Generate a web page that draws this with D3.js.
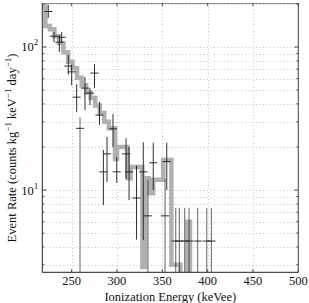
<!DOCTYPE html>
<html>
<head>
<meta charset="utf-8">
<script src="https://cdn.jsdelivr.net/npm/d3@7"></script>
<style>
  html, body { margin: 0; padding: 0; background: #fff; }
  text { font-family: "Liberation Serif", "Times New Roman", Times, serif; }
</style>
</head>
<body>
<div id="chart"></div>
<script>
// simulated spectrum (grey histogram): bin edges (keVee) and rate per bin
const histEdges = [217.6, 221, 226, 231, 236, 241, 246, 251, 256, 261, 266, 271, 276, 281, 286, 291,
                   297.8, 300, 311.6, 315, 328, 331, 335, 340, 351, 360, 370, 377.8, 380.5, 386];
const histRates = [195, 140, 133, 119, 106, 92, 79, 71, 61, 54, 48, 44, 39, 34.5, 30, 27,
                   16.5, 20, 12.1, 14.5, 2.9, 12.1, 9.5, 11.8, 16.2, 3.0, 0, 6.0, 0];

// measured points with error bars
const ptEnergy = [224.2, 230.5, 236.4, 239, 246.3, 250, 255.5, 259.2, 264.7, 270.2, 275.2, 280.7, 285, 289,
                  295.6, 299.7, 310, 313.3, 321.5, 329, 334.2, 340, 353, 354.9,
                  364.8, 368.8, 374.7, 379.5, 389, 399, 404.1];
const ptRate = [177, 119, 108, 117, 73.6, 67, 44.6, 27, 51.6, 47.6, 65.7, 33.4, 13.4, 17.9,
                26.8, 13.4, 17.9, 13.4, 8.8, 13.4, 6.6, 15.5, 6.6, 15.8,
                4.4, 4.4, 4.4, 4.4, 4.4, 4.4, 4.4];
const ptLow = [160, 108, 92, 107, 64, 54, 35, 0, 36.2, 39.3, 51.6, 28.5, 7.85, 11.4,
               20, 11.2, 12, 8.5, 4.5, 4.47, 0, 10, 0, 10,
               0, 0, 0, 0, 0, 0, 0];
const ptHigh = [197, 127, 121, 127, 88, 75, 55, 32.3, 61.6, 51.6, 76, 41.4, 19.1, 23.5,
                34, 17, 23, 20, 14.8, 21.6, 11.8, 21.4, 12, 21.4,
                7.5, 7.5, 7.5, 7.5, 7.5, 7.5, 7.5];
const binHalfWidth = 4.5;

const xTicks = [250, 300, 350, 400, 450, 500];
const yMajor = [10, 100];

const width = 309, height = 303;
const margin = {top: 3, right: 10.7, bottom: 30.7, left: 42.3};
const serif = "'Liberation Serif', 'Times New Roman', Times, serif";

const svg = d3.select("#chart").append("svg")
    .attr("width", width)
    .attr("height", height)
    .attr("font-family", serif);

const x = d3.scaleLinear().domain([217.6, 500]).range([margin.left, width - margin.right]);
const y = d3.scaleLog().domain([2.66, 203]).range([height - margin.bottom, margin.top]);
const [x0, x1] = x.range();
const [yb, yt] = y.range();
const floorVal = 1; // anything below the axis gets clipped

svg.append("defs").append("clipPath").attr("id", "plotclip")
  .append("rect").attr("x", x0).attr("y", yt).attr("width", x1 - x0).attr("height", yb - yt);

// grid
let minorY = [];
for (let d = 1; d <= 100; d *= 10) {
  for (let k = 1; k <= 9; k++) {
    let v = d * k;
    if (v >= 2.66 && v <= 203) minorY.push(v);
  }
}
const grid = svg.append("g").attr("stroke", "#c4c4c4").attr("stroke-width", 1).attr("stroke-dasharray", "1,2.5");
grid.selectAll(".gy").data(minorY).enter().append("line")
    .attr("x1", x0).attr("x2", x1)
    .attr("y1", d => Math.round(y(d)) + 0.5).attr("y2", d => Math.round(y(d)) + 0.5);
grid.selectAll(".gx").data(xTicks.slice(0, -1)).enter().append("line")
    .attr("y1", yt).attr("y2", yb)
    .attr("x1", d => Math.round(x(d)) + 0.5).attr("x2", d => Math.round(x(d)) + 0.5);

const plot = svg.append("g").attr("clip-path", "url(#plotclip)");

// histogram as a thick step line
let steps = histRates.map((r, i) => [histEdges[i], r]);
steps.push([histEdges[histEdges.length - 1], histRates[histRates.length - 1]]);
const stepLine = d3.line()
    .x(d => x(d[0]))
    .y(d => y(Math.max(d[1], floorVal)))
    .curve(d3.curveStepAfter);
plot.append("path")
    .datum(steps)
    .attr("fill", "none")
    .attr("stroke", "#b0b0b0")
    .attr("stroke-width", 4.5)
    .attr("stroke-linejoin", "miter")
    .attr("d", stepLine);

// error bars
const pts = ptEnergy.map((e, i) => ({e: e, r: ptRate[i], lo: ptLow[i], hi: ptHigh[i]}));
const eb = plot.append("g").attr("stroke", "#1a1a1a").attr("stroke-width", 0.9);
eb.selectAll(".v").data(pts).enter().append("line")
    .attr("x1", d => x(d.e)).attr("x2", d => x(d.e))
    .attr("y1", d => y(Math.max(d.lo, floorVal))).attr("y2", d => y(d.hi))
    .attr("stroke-opacity", d => d.lo > 0 ? 1 : 0.75);
eb.selectAll(".h").data(pts).enter().append("line")
    .attr("x1", d => x(d.e - binHalfWidth)).attr("x2", d => x(d.e + binHalfWidth))
    .attr("y1", d => y(d.r)).attr("y2", d => y(d.r));

// frame
svg.append("line").attr("x1", x0).attr("x2", x1).attr("y1", yt + 0.5).attr("y2", yt + 0.5)
   .attr("stroke", "#8c8c8c").attr("stroke-width", 1.2);
svg.append("line").attr("x1", x1).attr("x2", x1).attr("y1", yt).attr("y2", yb)
   .attr("stroke", "#444").attr("stroke-width", 1);
svg.append("line").attr("x1", x0).attr("x2", x0).attr("y1", yt).attr("y2", yb)
   .attr("stroke", "#222").attr("stroke-width", 1);
svg.append("line").attr("x1", x0).attr("x2", x1).attr("y1", yb).attr("y2", yb)
   .attr("stroke", "#222").attr("stroke-width", 1);

// inward ticks
const ticks = svg.append("g").attr("stroke", "#444").attr("stroke-width", 1);
ticks.selectAll(".tt").data(xTicks).enter().append("line")
    .attr("x1", d => x(d)).attr("x2", d => x(d)).attr("y1", yt).attr("y2", yt + 3);
ticks.selectAll(".tb").data(xTicks).enter().append("line")
    .attr("x1", d => x(d)).attr("x2", d => x(d)).attr("y1", yb).attr("y2", yb - 3);
ticks.selectAll(".tr").data(minorY).enter().append("line")
    .attr("x1", x1).attr("x2", d => x1 - (yMajor.includes(d) ? 4 : 2))
    .attr("y1", d => y(d)).attr("y2", d => y(d));
ticks.selectAll(".tl").data(minorY).enter().append("line")
    .attr("x1", x0).attr("x2", d => x0 + (yMajor.includes(d) ? 4 : 2))
    .attr("y1", d => y(d)).attr("y2", d => y(d));

// tick labels
svg.selectAll(".xl").data(xTicks).enter().append("text")
    .attr("x", d => x(d)).attr("y", yb + 13)
    .attr("text-anchor", "middle")
    .attr("font-family", serif)
    .attr("font-size", 12.5)
    .attr("fill", "#111")
    .text(d => d);

const yl = svg.selectAll(".yl").data(yMajor).enter().append("text")
    .attr("x", x0 - 4).attr("y", d => y(d) + 4.5)
    .attr("text-anchor", "end")
    .attr("font-family", serif)
    .attr("font-size", 12.5)
    .attr("fill", "#111");
yl.append("tspan").text("10");
yl.append("tspan").attr("dy", -6).attr("font-size", 9).text(d => Math.round(Math.log10(d)));

// axis titles
svg.append("text")
    .attr("x", (x0 + x1) / 2).attr("y", yb + 28.5)
    .attr("text-anchor", "middle")
    .attr("font-family", serif)
    .attr("font-size", 12.5)
    .attr("fill", "#111")
    .text("Ionization Energy (keVee)");

const yt2 = svg.append("text")
    .attr("transform", `translate(16,148) rotate(-90)`)
    .attr("text-anchor", "middle")
    .attr("font-family", serif)
    .attr("font-size", 12.5)
    .attr("fill", "#111");
yt2.append("tspan").text("Event Rate (counts kg");
yt2.append("tspan").attr("dy", -5).attr("font-size", 9).text("\u22121");
yt2.append("tspan").attr("dy", 5).text(" keV");
yt2.append("tspan").attr("dy", -5).attr("font-size", 9).text("\u22121");
yt2.append("tspan").attr("dy", 5).text(" day");
yt2.append("tspan").attr("dy", -5).attr("font-size", 9).text("\u22121");
yt2.append("tspan").attr("dy", 5).text(")");
</script>
</body>
</html>
